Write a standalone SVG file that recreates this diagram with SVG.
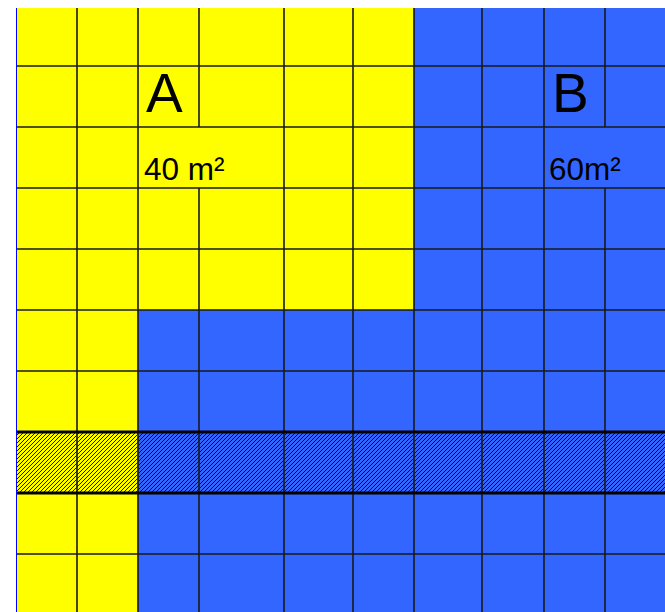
<svg xmlns="http://www.w3.org/2000/svg" width="665" height="612" viewBox="0 0 665 612">
  <defs>
    <pattern id="hatch" patternUnits="userSpaceOnUse" width="4" height="4">
      <path d="M-1,1 L1,-1 M0,4 L4,0 M3,5 L5,3" stroke="#000" stroke-width="0.9"/>
    </pattern>
  </defs>
  <style>
    .yel { fill: #ffff00; }
    .blu { fill: #3366ff; }
    .grid { stroke: #1a1a1a; stroke-width: 1.6; fill: none; }
    .thick { stroke: #000; stroke-width: 3; }
    .big { font-family: "Liberation Sans", Arial, sans-serif; font-size: 55px; fill: #000; }
    .lbl { font-family: "Liberation Sans", Arial, sans-serif; font-size: 31.5px; fill: #000; }
  </style>
  <rect x="0" y="0" width="665" height="612" fill="#fff"/>
  <g id="regionB">
    <rect class="blu" x="16" y="8" width="649" height="604"/>
  </g>
  <g id="regionA">
    <path class="yel" d="M16,8 H414 V310 H138 V612 H16 Z"/>
  </g>
  <g id="band">
    <rect x="16" y="432" width="649" height="61" fill="url(#hatch)"/>
  </g>
  <g id="gridlines">
    <path class="grid" d="M16,66 H665 M16,127 H665 M16,188 H665 M16,249 H665 M16,310 H665 M16,371 H665 M16,554 H665"/>
    <path class="grid" d="M77,8 V612 M138,8 V612 M199,8 V127 M199,188 V612 M284,8 V612 M353,8 V612 M414,8 V612 M482,8 V612 M544,8 V612 M605,8 V127 M605,188 V612"/>
    <path class="thick" d="M16,432 H665 M16,493 H665"/>
    <path d="M16.5,8 V612" stroke="#0000ff" stroke-width="1"/>
  </g>
  <g id="labels">
    <text class="big" x="146" y="112">A</text>
    <text class="big" x="552" y="112">B</text>
    <text class="lbl" x="144" y="180">40 m²</text>
    <text class="lbl" x="549" y="180">60m²</text>
  </g>
</svg>
